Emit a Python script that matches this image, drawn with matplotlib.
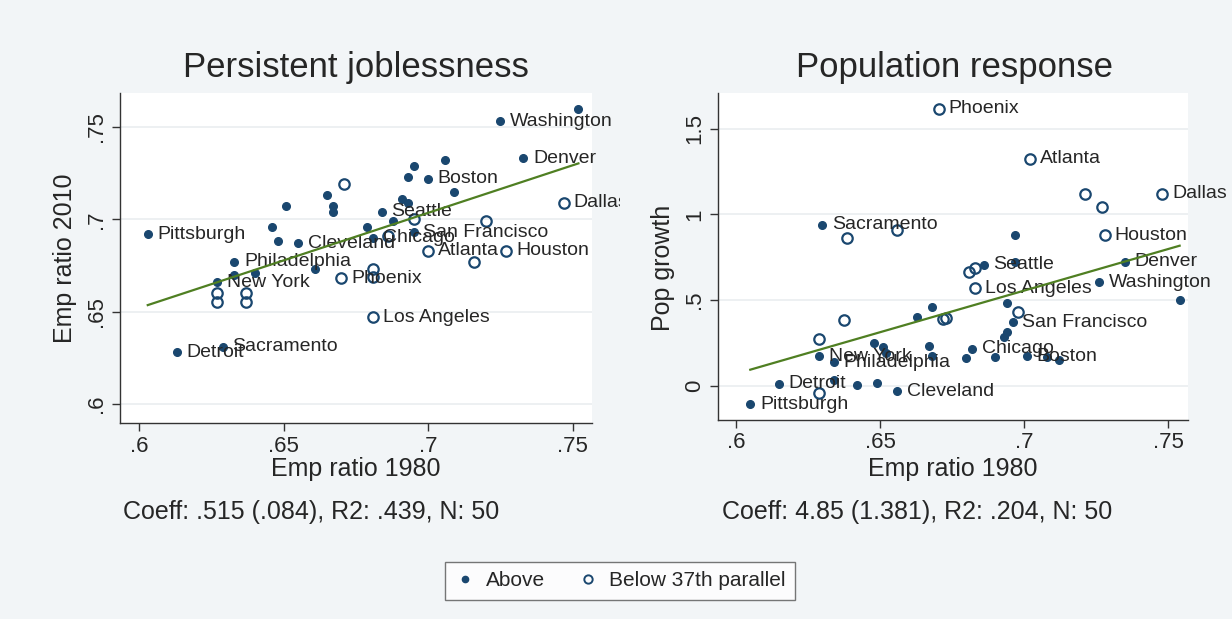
import numpy as np
import matplotlib
matplotlib.use("Agg")
import matplotlib.pyplot as plt
from matplotlib.lines import Line2D
from matplotlib.transforms import Bbox, TransformedBbox

plt.rcParams['font.family'] = ['Liberation Sans', 'DejaVu Sans']

NAVY = '#1a476f'
GREEN = '#4f7f22'
TXT = '#262626'

# ---- left panel: emp ratio 1980 vs emp ratio 2010 ----
left_above_lab = ['Pittsburgh', 'Detroit', 'Sacramento', 'Philadelphia', 'New York',
                  '', '', '', '', '', 'Cleveland', '', '', '', '', '', 'Chicago', 'Seattle',
                  '', '', '', '', 'Boston', '', '', '', 'San Francisco', 'Washington', 'Denver', '']
left_above_x = [.603, .613, .629, .633, .627, .633, .640, .646, .651, .648,
                .655, .661, .665, .667, .667, .679, .681, .684, .688, .695,
                .706, .693, .700, .709, .691, .693, .695, .725, .733, .752]
left_above_y = [.692, .628, .631, .677, .666, .670, .671, .696, .707, .688,
                .687, .673, .713, .707, .704, .696, .690, .704, .699, .729,
                .732, .723, .722, .715, .711, .709, .693, .753, .733, .760]

left_below_lab = ['', '', '', '', '', 'Phoenix', '', '', 'Los Angeles', '', '',
                  'Atlanta', '', '', 'Houston', 'Dallas']
left_below_x = [.671, .627, .627, .637, .637, .670, .681, .681, .681, .686, .695,
                .700, .716, .720, .727, .747]
left_below_y = [.719, .660, .655, .660, .655, .668, .673, .669, .647, .691, .700,
                .683, .677, .699, .683, .709]

left_fit = (0.515, 0.343)   # slope, intercept

# ---- right panel: emp ratio 1980 vs pop growth ----
right_above_lab = ['Sacramento', '', 'Seattle', '', 'Denver', 'Washington', '', '',
                   'San Francisco', '', '', 'Chicago', '', '', '', '', 'Boston',
                   'Pittsburgh', 'Detroit', 'New York', 'Philadelphia', '', '', '',
                   '', '', '', '', '', '', '', 'Cleveland']
right_above_x = [.630, .697, .686, .697, .735, .726, .754, .694, .696, .694, .693,
                 .682, .680, .690, .708, .712, .701, .605, .615, .629, .634, .648,
                 .651, .652, .663, .668, .667, .668, .634, .642, .649, .656]
right_above_y = [.939, .880, .706, .723, .723, .606, .501, .484, .373, .315, .286,
                 .216, .163, .169, .169, .152, .175, -.105, .012, .175, .140, .251,
                 .227, .192, .402, .461, .233, .175, .035, .006, .017, -.029]

right_below_lab = ['Phoenix', '', '', 'Atlanta', '', '', 'Dallas', 'Houston', '', '',
                   'Los Angeles', '', '', '', '', '', '']
right_below_x = [.6705, .6385, .656, .702, .721, .727, .748, .728, .681, .683,
                 .683, .698, .673, .629, .6375, .672, .629]
right_below_y = [1.615, .863, .910, 1.324, 1.120, 1.044, 1.120, .880, .665, .688,
                 .571, .431, .397, .274, .385, .391, -.041]

right_fit = (4.85, -2.839)

fig = plt.figure(figsize=(12.32, 6.19), dpi=100, facecolor='#f2f5f7')
W, H = 1232.0, 619.0


def px_axes(x0, y0, x1, y1):
    return fig.add_axes([x0 / W, 1 - y1 / H, (x1 - x0) / W, (y1 - y0) / H])


def draw_panel(ax, ab, be, fit, xlim, ylim, yticks, yticklabels, clip_px):
    ax.set_facecolor('white')
    for s in ['top', 'right']:
        ax.spines[s].set_visible(False)
    for s in ['left', 'bottom']:
        ax.spines[s].set_color('#333333')
        ax.spines[s].set_linewidth(1.0)
    ax.set_xlim(*xlim)
    ax.set_ylim(*ylim)
    ax.set_xticks([.6, .65, .7, .75])
    ax.set_xticklabels(['.6', '.65', '.7', '.75'])
    ax.set_yticks(yticks)
    ax.set_yticklabels(yticklabels, rotation=90, va='center')
    ax.tick_params(axis='both', labelsize=16, length=6, width=1,
                   color='#333333', labelcolor=TXT, pad=3)
    ax.grid(axis='y', color='#eaeef0', linewidth=1.2)
    ax.set_axisbelow(True)

    clip = TransformedBbox(Bbox.from_extents(0, 0, clip_px / W, 1), fig.transFigure)

    lab, xs, ys = ab
    ax.plot(xs, ys, 'o', color=NAVY, markersize=5.5, zorder=3, clip_on=False)
    for n, x, y in zip(lab, xs, ys):
        if n:
            t = ax.annotate(n, (x, y), xytext=(7, 0), textcoords='offset points',
                            va='center', ha='left', fontsize=14, color=TXT, zorder=4)
            t.set_clip_box(clip)
            t.set_clip_on(True)

    lab, xs, ys = be
    ax.plot(xs, ys, 'o', markerfacecolor='none', markeredgecolor=NAVY,
            markeredgewidth=1.6, markersize=7.5, zorder=3, clip_on=False)
    for n, x, y in zip(lab, xs, ys):
        if n:
            t = ax.annotate(n, (x, y), xytext=(7, 0), textcoords='offset points',
                            va='center', ha='left', fontsize=14, color=TXT, zorder=4)
            t.set_clip_box(clip)
            t.set_clip_on(True)

    allx = np.array(list(ab[1]) + list(be[1]))
    lx = np.array([allx.min(), allx.max()])
    ax.plot(lx, fit[0] * lx + fit[1], color=GREEN, linewidth=1.6, zorder=5)


axL = px_axes(120, 93, 592, 423)
draw_panel(axL, (left_above_lab, left_above_x, left_above_y),
           (left_below_lab, left_below_x, left_below_y), left_fit,
           (.5934, .7567), (.5897, .7684), [.6, .65, .7, .75],
           ['.6', '.65', '.7', '.75'], 620)

axR = px_axes(718, 93, 1188, 420)
draw_panel(axR, (right_above_lab, right_above_x, right_above_y),
           (right_below_lab, right_below_x, right_below_y), right_fit,
           (.5938, .7569), (-.198, 1.708), [0, .5, 1, 1.5],
           ['0', '.5', '1', '1.5'], 1232)

# titles, axis titles, notes
fig.text(356 / W, 1 - 68 / H, 'Persistent joblessness', ha='center', va='center',
         fontsize=25, color=TXT)
fig.text(955 / W, 1 - 68 / H, 'Population response', ha='center', va='center',
         fontsize=25, color=TXT)
fig.text(356 / W, 1 - 469 / H, 'Emp ratio 1980', ha='center', va='center',
         fontsize=18, color=TXT)
fig.text(953 / W, 1 - 469 / H, 'Emp ratio 1980', ha='center', va='center',
         fontsize=18, color=TXT)
fig.text(65 / W, 1 - 258 / H, 'Emp ratio 2010', ha='center', va='center',
         rotation=90, fontsize=18, color=TXT)
fig.text(663 / W, 1 - 268 / H, 'Pop growth', ha='center', va='center',
         rotation=90, fontsize=18, color=TXT)
fig.text(123 / W, 1 - 512 / H, 'Coeff: .515 (.084), R2: .439, N: 50', ha='left',
         va='center', fontsize=18, color=TXT)
fig.text(722 / W, 1 - 512 / H, 'Coeff: 4.85 (1.381), R2: .204, N: 50', ha='left',
         va='center', fontsize=18, color=TXT)

handles = [
    Line2D([], [], marker='o', linestyle='none', color=NAVY, markersize=4.5),
    Line2D([], [], marker='o', linestyle='none', markerfacecolor='none',
           markeredgecolor=NAVY, markeredgewidth=1.4, markersize=6),
]
leg = fig.legend(handles, ['Above', 'Below 37th parallel'], loc='center',
                 bbox_to_anchor=(620 / W, 1 - 581 / H), ncol=2, fontsize=15,
                 frameon=True, fancybox=False, edgecolor='#555555',
                 handletextpad=0.5, columnspacing=1.6, handlelength=1.0,
                 borderpad=0.45)
leg.get_frame().set_linewidth(1.0)
for t in leg.get_texts():
    t.set_color(TXT)

fig.savefig('out.png', dpi=100, facecolor=fig.get_facecolor())
